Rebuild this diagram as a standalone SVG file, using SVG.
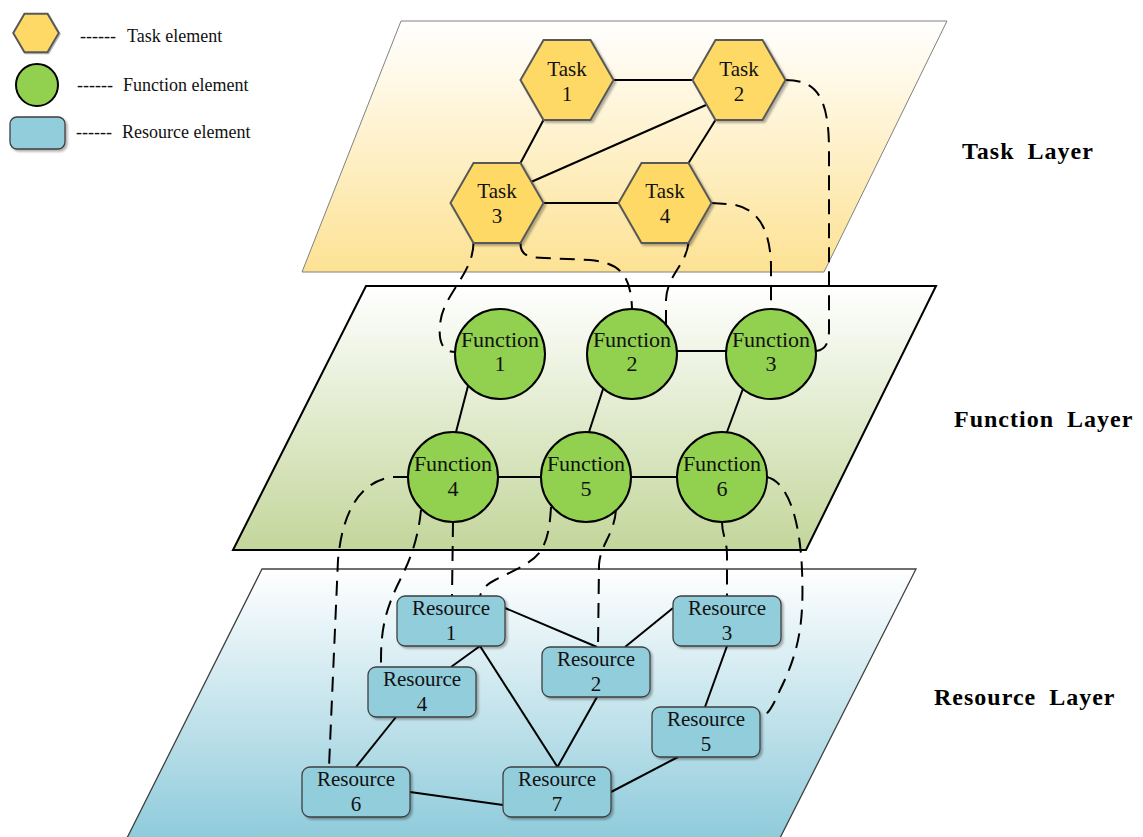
<svg xmlns="http://www.w3.org/2000/svg" xmlns:xlink="http://www.w3.org/1999/xlink" width="1143" height="837" viewBox="0 0 1143 837">
<defs>
  <linearGradient id="gTask" x1="0" y1="0" x2="0" y2="1">
    <stop offset="0" stop-color="#FFFFFF"/>
    <stop offset="1" stop-color="#FDE294"/>
  </linearGradient>
  <linearGradient id="gFunc" x1="0" y1="0" x2="0" y2="1">
    <stop offset="0" stop-color="#FFFFFF"/>
    <stop offset="1" stop-color="#C3D69B"/>
  </linearGradient>
  <linearGradient id="gRes" x1="0" y1="0" x2="0" y2="1">
    <stop offset="0" stop-color="#FFFFFF"/>
    <stop offset="1" stop-color="#8FCBDB"/>
  </linearGradient>
  <filter id="shadow" x="-20%" y="-20%" width="150%" height="150%">
    <feDropShadow dx="2" dy="2" stdDeviation="1" flood-color="#000000" flood-opacity="0.3"/>
  </filter>
  <polygon id="hex" points="-46.5,0 -23.5,-40 23.5,-40 46.5,0 23.5,40 -23.5,40"/>
  <rect id="rbox" x="0" y="0" width="108" height="50" rx="8" ry="8"/>
</defs>
<style>
  .hexn { fill: #FFD966; stroke: #595959; stroke-width: 2; filter: url(#shadow); }
  .circ { fill: #92D050; stroke: #000000; stroke-width: 2; }
  .res { fill: #92CDDC; stroke: #3F3F3F; stroke-width: 1.3; filter: url(#shadow); }
  .lbl { font-family: "Liberation Serif", "Times New Roman", serif; font-size: 21px; fill: #111111; text-anchor: middle; }
  .flbl { font-family: "Liberation Serif", "Times New Roman", serif; font-size: 22px; fill: #111111; text-anchor: middle; }
  .leg { font-family: "Liberation Serif", "Times New Roman", serif; font-size: 18px; fill: #111111; }
  .layer { font-family: "Liberation Serif", "Times New Roman", serif; font-size: 24px; font-weight: bold; fill: #000000; letter-spacing: 1px; word-spacing: 6px; }
  .solid { fill: none; stroke: #000000; stroke-width: 2; }
  .dash { fill: none; stroke: #000000; stroke-width: 2; stroke-dasharray: 15 9; }
</style>

<!-- Layers -->
<g id="task-layer">
  <polygon points="401,21 947,21 824,272 302,272" fill="url(#gTask)" stroke="#808080" stroke-width="1"/>
</g>
<g id="function-layer">
  <polygon points="366,286 936,286 806,550 233,550" fill="url(#gFunc)" stroke="#000000" stroke-width="2"/>
</g>
<g id="resource-layer">
  <polygon points="262,569 916,569 780,838 127,838" fill="url(#gRes)" stroke="#404040" stroke-width="1.3"/>
</g>

<!-- Legend -->
<g id="legend">
  <use xlink:href="#hex" href="#hex" class="hexn" transform="translate(36,33) scale(0.49,0.48)" style="stroke-width:4"/>
  <circle cx="37" cy="85" r="21" class="circ"/>
  <rect x="10" y="117" width="55" height="32" rx="7" ry="7" class="res"/>
  <text class="leg" y="42"><tspan x="80">------</tspan><tspan x="127">Task element</tspan></text>
  <text class="leg" y="91"><tspan x="77">------</tspan><tspan x="123">Function element</tspan></text>
  <text class="leg" y="138"><tspan x="76">------</tspan><tspan x="122">Resource element</tspan></text>
</g>

<!-- Layer labels -->
<g id="layer-labels">
  <text class="layer" x="962" y="159">Task Layer</text>
  <text class="layer" x="954" y="427">Function Layer</text>
  <text class="layer" x="934" y="705">Resource Layer</text>
</g>

<!-- Connectors -->
<g id="connectors">
  <!-- task layer -->
  <line class="solid" x1="613.5" y1="80" x2="692.5" y2="80"/>
  <line class="solid" x1="543.5" y1="120" x2="520.5" y2="163"/>
  <line class="solid" x1="706" y1="105" x2="531" y2="182"/>
  <line class="solid" x1="715.5" y1="120" x2="688.5" y2="163"/>
  <line class="solid" x1="543.5" y1="203" x2="618.5" y2="203"/>
  <!-- function layer -->
  <line class="solid" x1="468" y1="386" x2="456" y2="432"/>
  <line class="solid" x1="604" y1="386" x2="589" y2="432"/>
  <line class="solid" x1="744" y1="386" x2="727" y2="432"/>
  <line class="solid" x1="677" y1="351" x2="726" y2="351"/>
  <line class="solid" x1="498" y1="477" x2="541" y2="477"/>
  <line class="solid" x1="631" y1="477" x2="677" y2="477"/>
  <!-- resource layer -->
  <line class="solid" x1="505" y1="608" x2="597" y2="647"/>
  <line class="solid" x1="625" y1="647" x2="673" y2="608"/>
  <line class="solid" x1="480" y1="646" x2="451" y2="667"/>
  <line class="solid" x1="480" y1="646" x2="557.5" y2="767"/>
  <line class="solid" x1="597" y1="697" x2="557.5" y2="767"/>
  <line class="solid" x1="727" y1="646" x2="705" y2="707"/>
  <line class="solid" x1="396" y1="717" x2="356" y2="767"/>
  <line class="solid" x1="410" y1="792" x2="503" y2="805"/>
  <line class="solid" x1="678" y1="757" x2="611" y2="792"/>
  <!-- task to function (dashed) -->
  <path class="dash" d="M473.5,243 C473,275 442,295 440,325 C438,345 445,352 455,352"/>
  <path class="dash" d="M520.5,243 C520,256 530,258 545,258 L590,260 C620,263 631,275 632,309"/>
  <path class="dash" d="M688.5,243 C686,265 667,275 666,300 L666,324"/>
  <path class="dash" d="M711.5,203 L728,204 C755,206 770,225 771,265 L771,309"/>
  <path class="dash" d="M785.5,80 C815,80 829,95 829,150 L829,330 C829,345 824,350 816,351"/>
  <!-- function to resource (dashed) -->
  <path class="dash" d="M408,477 L392,477 C358,482 342,515 338,560 L329,767"/>
  <path class="dash" d="M421,510 C418,540 410,560 400,580 C385,610 381,630 381,660 C381,672 378,678 369,679"/>
  <path class="dash" d="M453,522 L452,596"/>
  <path class="dash" d="M551,507 C550,525 548,540 540,552 C530,565 510,572 495,580 C487,584 482,589 480,596"/>
  <path class="dash" d="M616,510 C614,535 600,545 599,565 L598,647"/>
  <path class="dash" d="M722,522 C722,535 727,540 727,555 L727,596"/>
  <path class="dash" d="M767,477 C788,482 800,520 802,570 C804,620 800,650 780,690 C774,703 770,713 761,718"/>
</g>

<!-- Task nodes -->
<g id="task1">
  <use href="#hex" xlink:href="#hex" class="hexn" x="567" y="80"/>
  <text class="lbl" x="567" y="76">Task</text>
  <text class="lbl" x="567" y="101">1</text>
</g>
<g id="task2">
  <use href="#hex" xlink:href="#hex" class="hexn" x="739" y="80"/>
  <text class="lbl" x="739" y="76">Task</text>
  <text class="lbl" x="739" y="101">2</text>
</g>
<g id="task3">
  <use href="#hex" xlink:href="#hex" class="hexn" x="497" y="203"/>
  <text class="lbl" x="497" y="198">Task</text>
  <text class="lbl" x="497" y="223">3</text>
</g>
<g id="task4">
  <use href="#hex" xlink:href="#hex" class="hexn" x="665" y="203"/>
  <text class="lbl" x="665" y="198">Task</text>
  <text class="lbl" x="665" y="223">4</text>
</g>

<!-- Function nodes -->
<g id="function1">
  <circle class="circ" cx="500" cy="354" r="45"/>
  <text class="flbl" x="500" y="347">Function</text>
  <text class="flbl" x="500" y="371">1</text>
</g>
<g id="function2">
  <circle class="circ" cx="632" cy="354" r="45"/>
  <text class="flbl" x="632" y="347">Function</text>
  <text class="flbl" x="632" y="371">2</text>
</g>
<g id="function3">
  <circle class="circ" cx="771" cy="354" r="45"/>
  <text class="flbl" x="771" y="347">Function</text>
  <text class="flbl" x="771" y="371">3</text>
</g>
<g id="function4">
  <circle class="circ" cx="453" cy="477" r="45"/>
  <text class="flbl" x="453" y="471">Function</text>
  <text class="flbl" x="453" y="496">4</text>
</g>
<g id="function5">
  <circle class="circ" cx="586" cy="477" r="45"/>
  <text class="flbl" x="586" y="471">Function</text>
  <text class="flbl" x="586" y="496">5</text>
</g>
<g id="function6">
  <circle class="circ" cx="722" cy="477" r="45"/>
  <text class="flbl" x="722" y="471">Function</text>
  <text class="flbl" x="722" y="496">6</text>
</g>

<!-- Resource nodes -->
<g id="resource1">
  <use href="#rbox" xlink:href="#rbox" class="res" x="397" y="596"/>
  <text class="lbl" x="451" y="615">Resource</text>
  <text class="lbl" x="451" y="640">1</text>
</g>
<g id="resource2">
  <use href="#rbox" xlink:href="#rbox" class="res" x="542" y="647"/>
  <text class="lbl" x="596" y="666">Resource</text>
  <text class="lbl" x="596" y="691">2</text>
</g>
<g id="resource3">
  <use href="#rbox" xlink:href="#rbox" class="res" x="673" y="596"/>
  <text class="lbl" x="727" y="615">Resource</text>
  <text class="lbl" x="727" y="640">3</text>
</g>
<g id="resource4">
  <use href="#rbox" xlink:href="#rbox" class="res" x="368" y="667"/>
  <text class="lbl" x="422" y="686">Resource</text>
  <text class="lbl" x="422" y="711">4</text>
</g>
<g id="resource5">
  <use href="#rbox" xlink:href="#rbox" class="res" x="652" y="707"/>
  <text class="lbl" x="706" y="726">Resource</text>
  <text class="lbl" x="706" y="751">5</text>
</g>
<g id="resource6">
  <use href="#rbox" xlink:href="#rbox" class="res" x="302" y="767"/>
  <text class="lbl" x="356" y="786">Resource</text>
  <text class="lbl" x="356" y="811">6</text>
</g>
<g id="resource7">
  <use href="#rbox" xlink:href="#rbox" class="res" x="503" y="767"/>
  <text class="lbl" x="557" y="786">Resource</text>
  <text class="lbl" x="557" y="811">7</text>
</g>
</svg>
